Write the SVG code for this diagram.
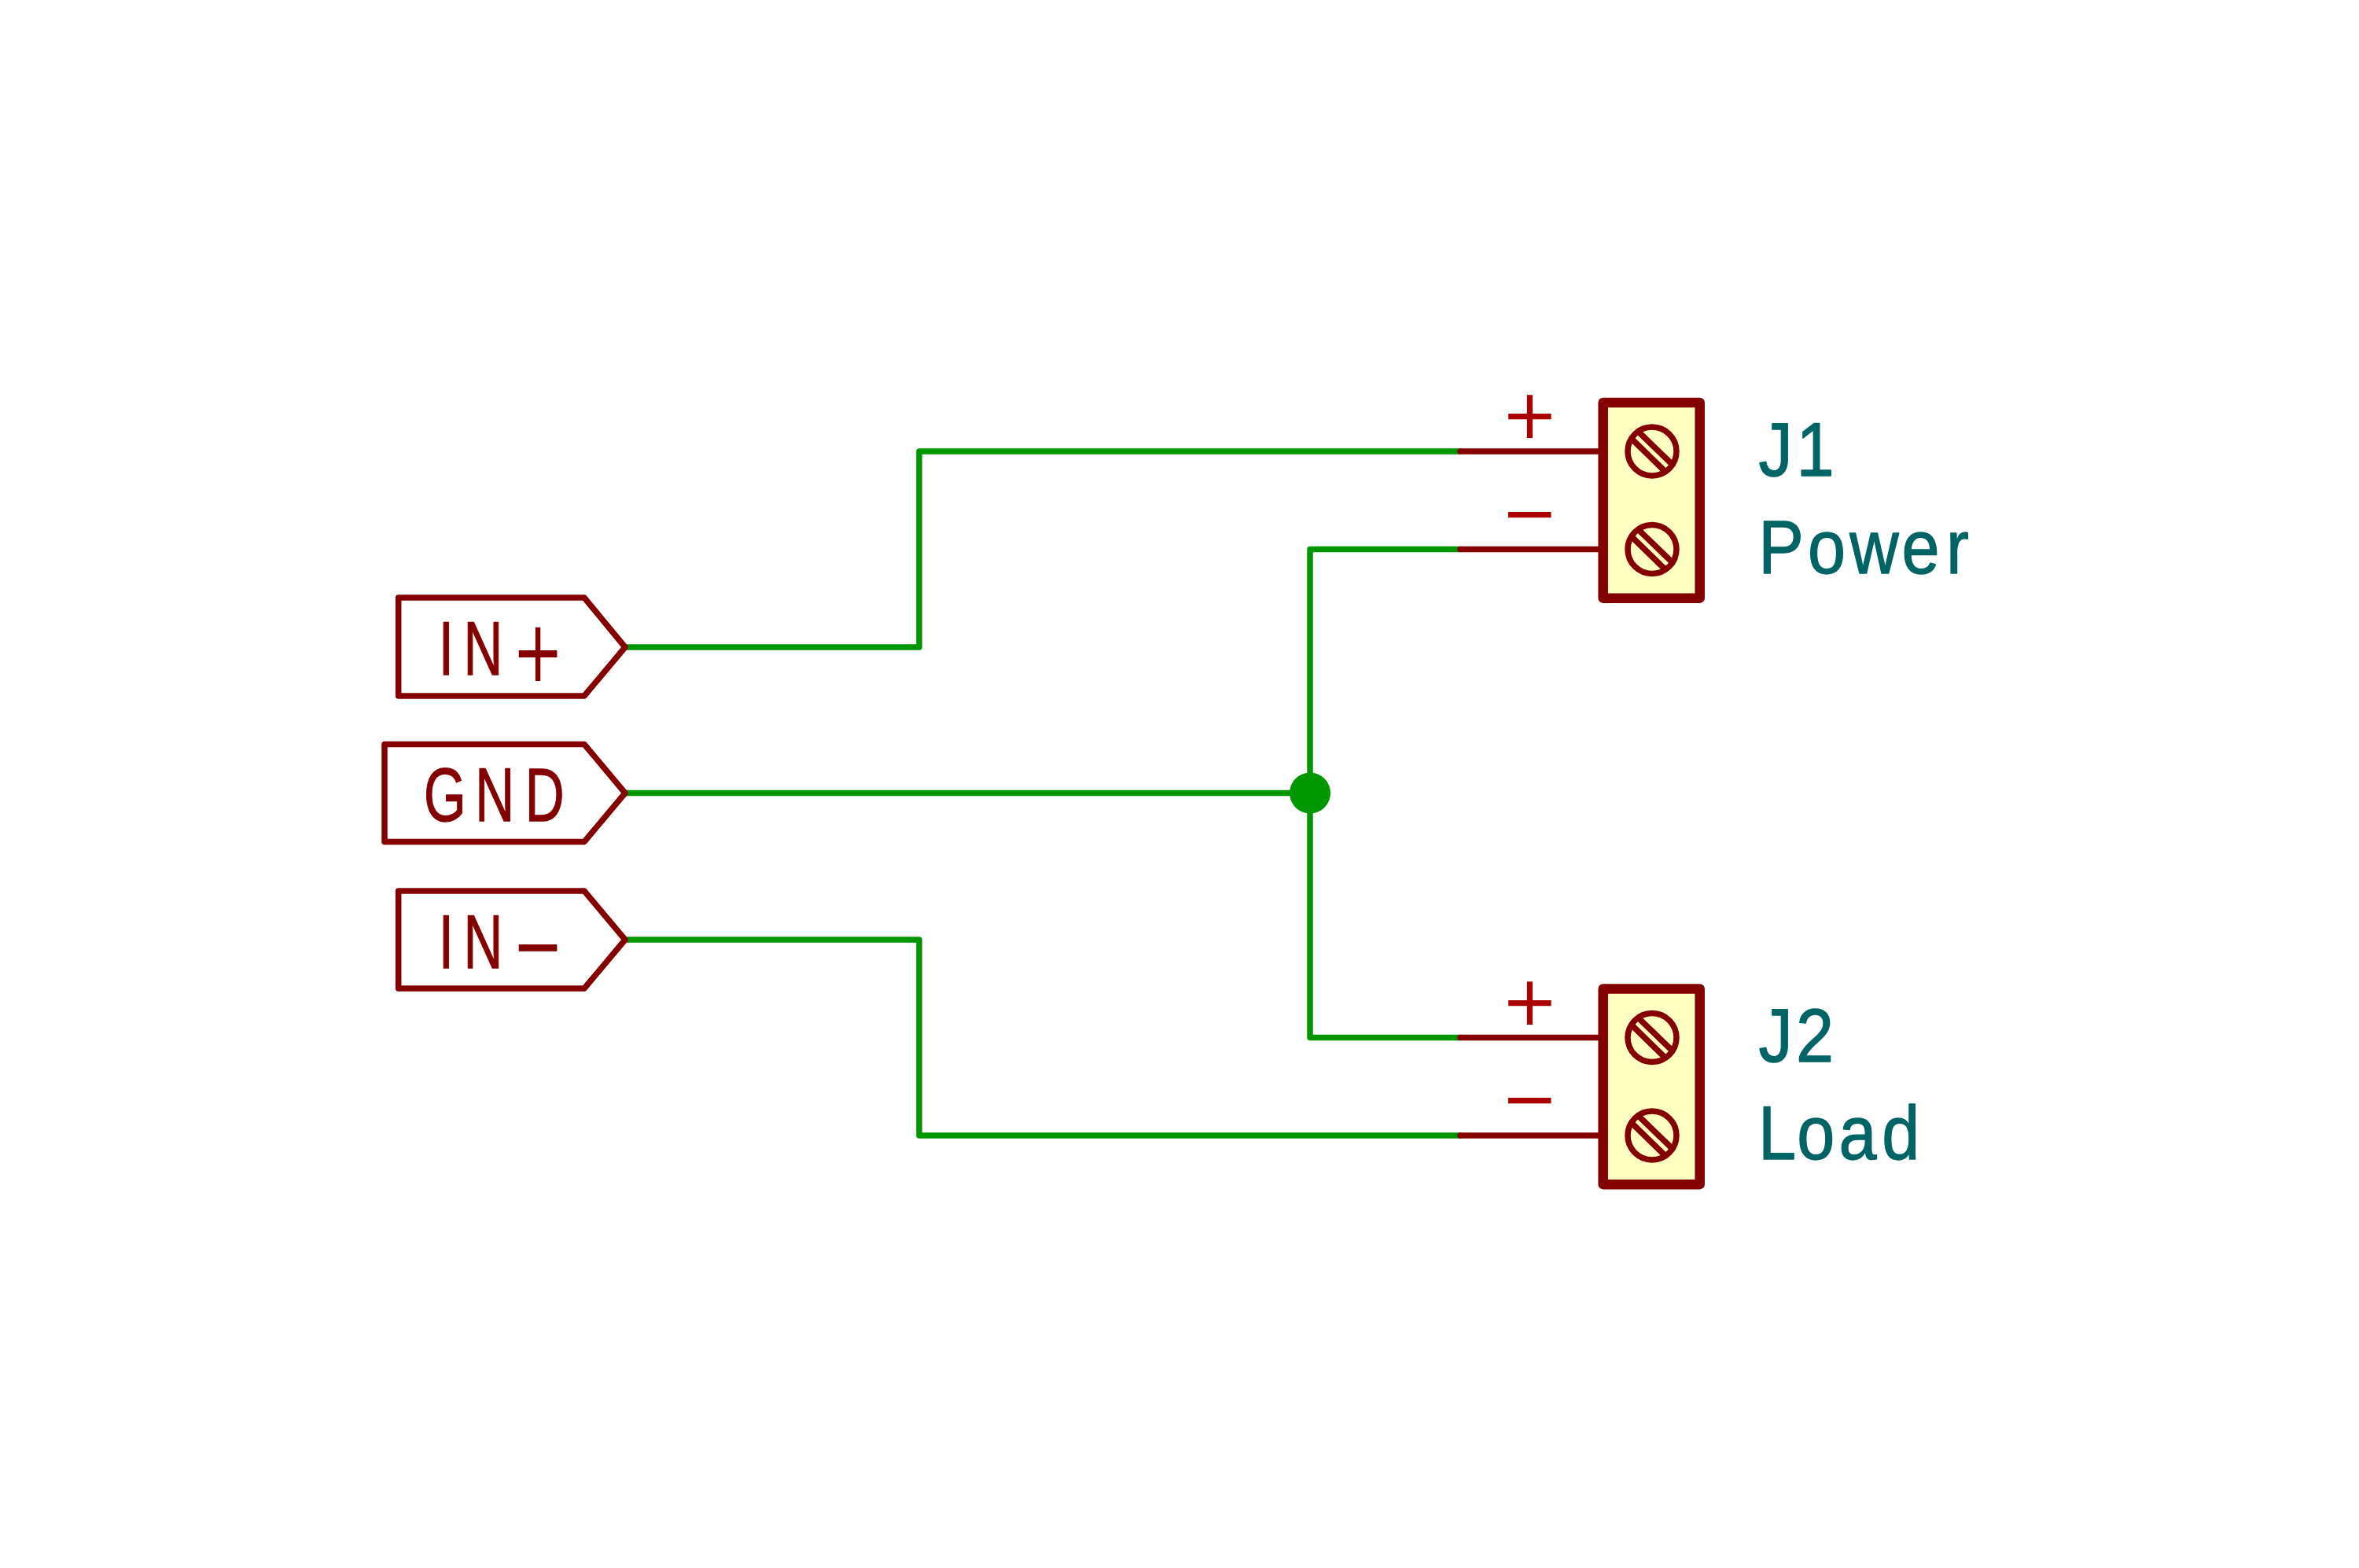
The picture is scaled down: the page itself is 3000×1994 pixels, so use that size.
<svg xmlns="http://www.w3.org/2000/svg" width="3000" height="1994" viewBox="0 0 3000 1994">
<style>
.w{fill:none;stroke:#009600;stroke-width:7.5;stroke-linecap:round;stroke-linejoin:round}
.p{fill:none;stroke:#840000;stroke-width:7.5;stroke-linecap:round;stroke-linejoin:round}
.lab{fill:#fff;stroke:#840000;stroke-width:7.5;stroke-linejoin:round}
.box{fill:#ffffc2;stroke:#840000;stroke-width:12.5;stroke-linejoin:round}
.t{font-family:"Liberation Sans",Arial,sans-serif;font-size:96px;text-anchor:middle;stroke-width:1.3;stroke-linejoin:round}
.ref{fill:#006464;stroke:#006464}
.lt{fill:#840000;stroke:#840000}
.sym{font-family:"DejaVu Sans",sans-serif;font-size:108px;stroke-width:0}
.pin{font-family:"DejaVu Sans",sans-serif;font-size:87px;text-anchor:middle;fill:#a90000}
</style>
<defs>
<g id="screw">
<circle r="31" cx="0" cy="0" class="p"/>
<path d="M-17.4-25L25 16M-26-16L16 25" class="p"/>
</g>
</defs>
<rect width="3000" height="1994" fill="#fff"/>
<g id="connectors">
<path class="w" d="M795 823H1169V574H1857"/>
<path class="w" d="M795 1008.5H1666"/>
<path class="w" d="M795 1195H1169V1444H1857"/>
<path class="w" d="M1857 698.5H1666V1319.5H1857"/>
<circle cx="1666" cy="1008.5" r="26" fill="#009600"/>
</g>
<g id="label-in-plus">
<path class="lab" d="M506.7 760H743L795 823L743 885H506.7Z"/>
<text class="t lt" transform="scale(.72 1)" x="788 853.4" y="858">IN<tspan class="sym" x="950" y="866">+</tspan></text>
</g>
<g id="label-gnd">
<path class="lab" d="M489 946.5H743L795 1008.5L743 1070.5H489Z"/>
<text class="t lt" transform="scale(.72 1)" x="786 874 962" y="1044">GND</text>
</g>
<g id="label-in-minus">
<path class="lab" d="M506.7 1133H743L795 1195L743 1257H506.7Z"/>
<text class="t lt" transform="scale(.72 1)" x="788 853.4" y="1231">IN<tspan class="sym" x="950" y="1239">−</tspan></text>
</g>
<g id="J1">
<path class="p" d="M1857 574H2039M1857 698.5H2039"/>
<rect class="box" x="2038.7" y="512" width="123" height="248.7"/>
<use href="#screw" x="2101" y="574"/>
<use href="#screw" x="2101" y="698.5"/>
<text class="pin" x="1945.5" y="557">+</text>
<text class="pin" x="1945.5" y="681.5">−</text>
<text class="t ref" transform="scale(.9 1)" x="2509 2565" y="605.5">J1</text>
<text class="t ref" transform="scale(.9 1)" x="2516.7 2581.1 2648.3 2713.9 2766" y="729">Power</text>
</g>
<g id="J2">
<path class="p" d="M1857 1319.5H2039M1857 1444H2039"/>
<rect class="box" x="2038.7" y="1257.5" width="123" height="248.7"/>
<use href="#screw" x="2101" y="1319.5"/>
<use href="#screw" x="2101" y="1444"/>
<text class="pin" x="1945.5" y="1302.5">+</text>
<text class="pin" x="1945.5" y="1427">−</text>
<text class="t ref" transform="scale(.9 1)" x="2509 2564.4" y="1350">J2</text>
<text class="t ref" transform="scale(.9 1)" x="2511.1 2566 2625 2686" y="1474">Load</text>
</g>
</svg>
